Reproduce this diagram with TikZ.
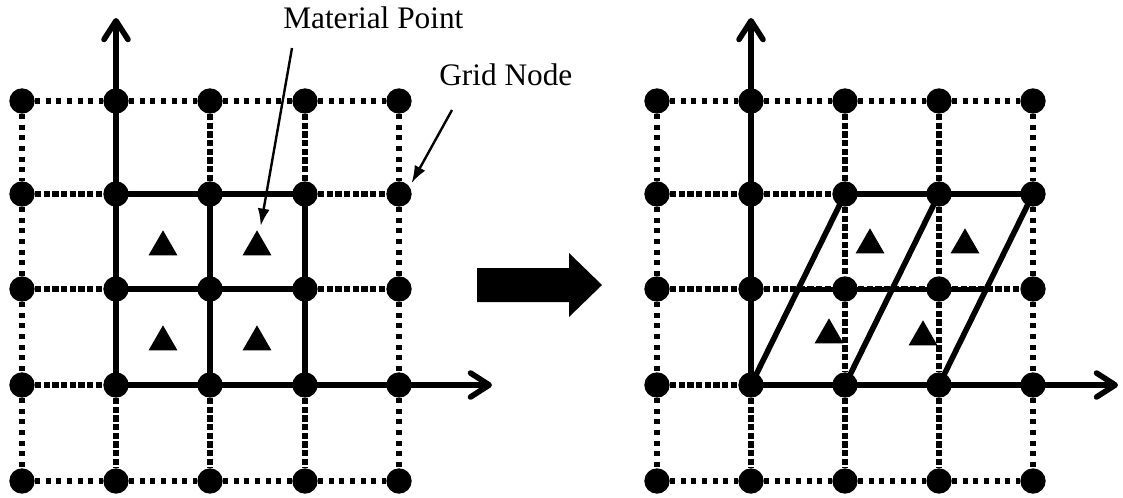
\documentclass[tikz,border=0pt]{standalone}
\usepackage{fontspec}
\setmainfont{Liberation Serif}
\usetikzlibrary{arrows.meta,shapes.geometric,calc}
\begin{document}
\begin{tikzpicture}[x=0.75pt,y=-0.75pt,
  dot/.style={circle,fill=black,inner sep=0pt,minimum size=19pt},
  gdot/.style={line width=4pt,dash pattern=on 3.9pt off 4.1pt},
  gdash/.style={line width=4pt,dash pattern=on 4.8pt off 1.7pt},
  solidline/.style={line width=4.2pt},
  axis/.style={line width=4.2pt,-{Straight Barb[length=14pt,width=18pt,round]}},
  mp/.style={regular polygon,regular polygon sides=3,fill=black,inner sep=0pt,minimum size=25pt},
  lbl/.style={font=\fontsize{23.5}{28}\selectfont,inner sep=0pt,anchor=base west},
  pointer/.style={line width=1.8pt,-{Latex[length=13pt,width=9pt]}},
  bigarrow/.style={fill=black}
]
\useasboundingbox (0,0) rectangle (1123,497);

% grid nodes
\foreach \i/\x in {0/22,1/116,2/210,3/305,4/399}
  \foreach \j/\y in {0/101,1/194,2/289,3/385,4/481}
    \node[dot] (L-\i-\j) at (\x,\y) {};
\foreach \i/\x in {0/657,1/751,2/845,3/939,4/1033}
  \foreach \j/\y in {0/101,1/194,2/289,3/385,4/481}
    \node[dot] (R-\i-\j) at (\x,\y) {};

% background grid lines
\foreach \g in {L,R}{
  \foreach \i [count=\k] in {0,...,3}{
    \draw[gdot] (\g-\i-0) -- (\g-\k-0);
    \draw[gdot] (\g-\i-4) -- (\g-\k-4);
    \draw[gdot] (\g-0-\i) -- (\g-0-\k);
    \draw[gdot] (\g-4-\i) -- (\g-4-\k);
    \foreach \m in {1,2,3}{
      \draw[gdash] (\g-\i-\m) -- (\g-\k-\m);
      \draw[gdash] (\g-\m-\i) -- (\g-\m-\k);
    }
  }
}

% left: axes and undeformed cells
\coordinate (LyTip) at (116,18);
\coordinate (LxTip) at (492,385);
\draw[axis] (L-1-3.center) -- (LyTip);
\draw[axis] (L-1-3.center) -- (LxTip);
\draw[solidline] (L-1-1.center) -- (L-3-1.center);
\draw[solidline] (L-1-2.center) -- (L-3-2.center);
\draw[solidline] (L-2-1.center) -- (L-2-3.center);
\draw[solidline] (L-3-1.center) -- (L-3-3.center);

% right: axes and deformed cells
\coordinate (RyTip) at (751,18);
\coordinate (RxTip) at (1118,385);
\draw[axis] (R-1-3.center) -- (RyTip);
\draw[axis] (R-1-3.center) -- (RxTip);
\draw[solidline] (R-2-1.center) -- (R-4-1.center);
\draw[solidline] (R-1-3.center) -- (R-2-1.center);
\draw[solidline] (R-2-3.center) -- (R-3-1.center);
\draw[solidline] (R-3-3.center) -- (R-4-1.center);
\coordinate (RmA) at ($(R-1-3.center)!0.5!(R-2-1.center)$);
\coordinate (RmB) at ($(R-3-3.center)!0.5!(R-4-1.center)$);
\draw[solidline] (RmA) -- (RmB);

% material points
\node[mp] (T-L-1) at (163,247) {};
\node[mp] (T-L-2) at (257,247) {};
\node[mp] (T-L-3) at (163,342) {};
\node[mp] (T-L-4) at (257,342) {};
\node[mp] (T-R-1) at (870,245) {};
\node[mp] (T-R-2) at (965,245) {};
\node[mp] (T-R-3) at (829,335) {};
\node[mp] (T-R-4) at (923,337) {};

% big arrow
\fill[bigarrow] (477,268) -- (569,268) -- (569,253) -- (602,285) -- (569,317) -- (569,302) -- (477,302) -- cycle;

% labels
\node[lbl] (mpl) at (283,28) {Material Point};
\node[lbl] (gnl) at (439,85) {Grid Node};
\coordinate (mpS) at (292,48);
\coordinate (gnS) at (452,110);
\draw[pointer,shorten >=6pt] (mpS) -- (T-L-2);
\draw[pointer,shorten >=3pt] (gnS) -- (L-4-1.35);
\end{tikzpicture}
\end{document}
